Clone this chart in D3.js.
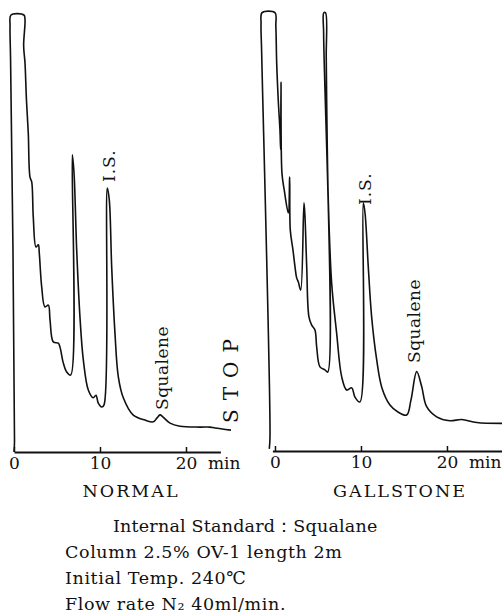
<!DOCTYPE html>
<html>
<head>
<meta charset="utf-8">
<script src="https://cdn.jsdelivr.net/npm/d3@7"></script>
<style>
  body { margin: 0; background: #fff; }
  text { font-family: "DejaVu Serif", serif; fill: #111; }
  .trace { fill: none; stroke: #111; stroke-width: 1.6; stroke-linejoin: round; }
  .axis .domain { stroke: #111; stroke-width: 2; }
  .axis .tick line { stroke: #111; stroke-width: 1.5; }
  .axis .tick text { font-size: 17px; }
</style>
</head>
<body>
<svg width="502" height="616"></svg>
<script>
  // time (min) and signal (% of full scale)
  const normalTime = [0, 0.06, -0.40, -0.46, -0.35, 1.15, 1.28, 1.12, 1.28, 1.45, 1.66, 1.86, 2.06,
    2.24, 2.56, 2.83, 2.94, 3.22, 3.60, 3.99, 4.19, 4.57, 5.15, 5.35, 5.73, 6.13, 6.59, 6.78, 6.98,
    7.29, 7.67, 8.06, 8.64, 9.22, 9.53, 9.80, 10.20, 10.47, 10.85, 11.08, 11.36, 11.74, 12.13, 12.71,
    13.84, 15.23, 16.20, 16.63, 16.98, 17.33, 18.14, 19.30, 21.63, 22.79, 23.37, 25.23];
  const normalSignal = [0, 2.5, 90, 97.5, 100, 100, 99, 93, 89.0, 80.5, 73.0, 62.9, 61.8,
    53.8, 46.9, 47.4, 45.5, 37.8, 33.2, 33.6, 30.2, 25.2, 24.9, 24.0, 20.4, 18.3, 17.6, 68.0, 63.8,
    46.2, 30.9, 21.1, 14.2, 12.4, 13.0, 11.2, 10.3, 10.8, 60.4, 57.7, 42.3, 27.2, 17.2, 12.4,
    8.5, 7.3, 6.9, 7.8, 8.5, 8.0, 6.6, 5.9, 5.7, 5.7, 5.5, 5.0];

  const gallTime = [-0.66, -0.58, -1.55, -1.62, -1.50, 0.0, 0.10, 0.20, 0.38, 0.58, 0.66, 0.70, 0.81,
    1.08, 1.55, 1.71, 1.78, 2.09, 2.33, 2.52, 2.71, 2.99, 3.37, 3.49, 3.69, 3.95, 4.27, 4.65, 4.85,
    5.23, 5.81, 6.13, 5.66, 5.68, 5.88, 5.96, 6.01, 6.20, 6.59, 7.17, 7.76, 8.34, 8.92, 9.30, 9.88,
    10.27, 10.47, 10.85, 11.24, 11.83, 12.44, 13.37, 14.30, 15.31, 15.81, 16.48, 17.06, 17.64, 18.80,
    20.35, 21.71, 23.45, 26.40];
  const gallSignal = [0.5, 3.2, 91, 97.5, 100, 100, 97, 88.5, 80.1, 73.2, 68.7, 84.2, 63.4,
    59.5, 54.3, 62.5, 50.4, 45.9, 42.0, 39.5, 38.6, 36.7, 56.6, 53.4, 42.0, 30.6, 28.7, 27.6, 23.7,
    19.2, 18.5, 18.0, 95, 100, 100, 90, 80.1, 57.3, 38.3, 26.9, 16.9, 13.9, 14.4, 12.3, 11.2,
    56.6, 54.3, 42.0, 30.6, 20.8, 14.4, 10.5, 8.9, 8.2, 11.6, 18.1, 14.7, 10.1, 7.8,
    6.9, 7.2, 6.5, 6.3];

  const tickValues = [0, 10, 20];
  const panelNames = ['NORMAL', 'GALLSTONE'];
  const conditionLines = [
    'Internal Standard\uFF1ASqualane',
    'Column 2.5% OV-1 length 2m',
    'Initial Temp.  240\u2103',
    'Flow rate N\u2082 40ml/min.'
  ];

  const svg = d3.select('svg');

  // each panel: its own scales, roughly where the scan put them
  const panels = [
    {
      name: panelNames[0], time: normalTime, signal: normalSignal, nameX: 131,
      axisDomain: [0, 24], xRange: [14, 220.4], yRange: [452, 15],
      labels: [
        { text: 'I.S.', x: 115, y: 182, size: 17, spacing: 1 },
        { text: 'Squalene', x: 168, y: 410, size: 17, spacing: 0.5 },
        { text: 'STOP', x: 238, y: 423, size: 20, spacing: 9 }
      ]
    },
    {
      name: panelNames[1], time: gallTime, signal: gallSignal, nameX: 400,
      axisDomain: [-0.3, 26.4], xRange: [272.4, 502], yRange: [451, 12.7],
      labels: [
        { text: 'I.S.', x: 371, y: 205, size: 17, spacing: 1 },
        { text: 'Squalene', x: 420, y: 363, size: 17, spacing: 0.5 }
      ]
    }
  ];

  panels.forEach(p => {
    const xScale = d3.scaleLinear().domain(p.axisDomain).range(p.xRange);
    const yScale = d3.scaleLinear().domain([0, 100]).range(p.yRange);
    const g = svg.append('g');

    const line = d3.line()
      .x((d, i) => xScale(p.time[i]))
      .y(d => yScale(d))
      .curve(d3.curveCatmullRom.alpha(0.5));

    g.append('path')
      .attr('class', 'trace')
      .attr('d', line(p.signal));

    // ticks point up into the plot, labels below
    const xAxis = d3.axisBottom(xScale)
      .tickValues(tickValues)
      .tickFormat(d3.format('d'))
      .tickSizeInner(-5)
      .tickSizeOuter(0)
      .tickPadding(5);

    const axisG = g.append('g')
      .attr('class', 'axis')
      .attr('transform', `translate(0,${yScale(0)})`)
      .call(xAxis);
    axisG.selectAll('.tick text').attr('fill', '#111');

    axisG.append('text')
      .attr('x', xScale(20) + 22)
      .attr('y', 5)
      .attr('dy', '0.71em')
      .attr('text-anchor', 'start')
      .attr('font-size', 17)
      .text('min');

    g.append('text')
      .attr('x', p.nameX)
      .attr('y', 497)
      .attr('text-anchor', 'middle')
      .attr('font-size', 17.5)
      .attr('letter-spacing', 2)
      .text(p.name);

    g.selectAll('.peak-label').data(p.labels)
      .enter().append('text')
        .attr('class', 'peak-label')
        .attr('transform', d => `translate(${d.x},${d.y}) rotate(-90)`)
        .attr('font-size', d => d.size)
        .attr('letter-spacing', d => d.spacing)
        .text(d => d.text);
  });

  // run conditions under the chart
  svg.append('g').selectAll('text').data(conditionLines)
    .enter().append('text')
      .attr('x', (d, i) => i === 0 ? 113 : 65)
      .attr('y', (d, i) => 532 + i * 26)
      .attr('font-size', 17.5)
      .attr('letter-spacing', (d, i) => i === 0 ? 0.2 : 0.6)
      .text(d => d);
</script>
</body>
</html>
